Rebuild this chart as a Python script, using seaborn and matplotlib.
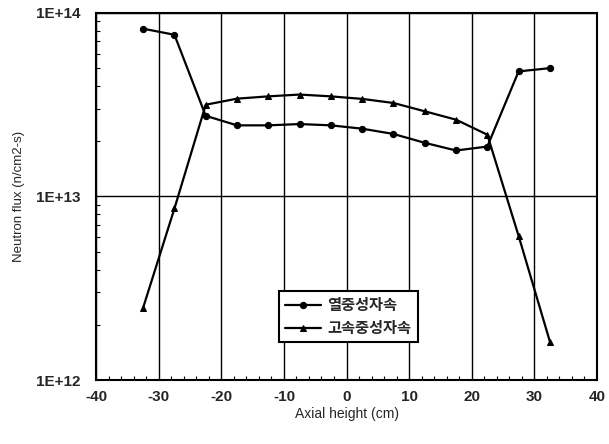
import numpy as np
import pandas as pd
import seaborn as sns
import matplotlib.pyplot as plt
from matplotlib.ticker import FixedLocator, FuncFormatter, LogLocator, MultipleLocator, NullFormatter

# axial positions (cm)
height = [-32.5, -27.5, -22.5, -17.5, -12.5, -7.5, -2.5,
          2.5, 7.5, 12.5, 17.5, 22.5, 27.5, 32.5]

# thermal neutron flux (n/cm2-s)
thermal = [8.2e13, 7.6e13, 2.75e13, 2.44e13, 2.44e13, 2.48e13, 2.44e13,
           2.34e13, 2.19e13, 1.96e13, 1.78e13, 1.87e13, 4.8e13, 5.0e13]

# fast neutron flux (n/cm2-s)
fast = [2.48e12, 8.6e12, 3.16e13, 3.41e13, 3.51e13, 3.59e13, 3.51e13,
        3.40e13, 3.23e13, 2.91e13, 2.62e13, 2.17e13, 6.1e12, 1.62e12]

series_names = ["열중성자속", "고속중성자속"]

df = pd.DataFrame({
    "height": height * 2,
    "flux": thermal + fast,
    "series": [series_names[0]] * len(height) + [series_names[1]] * len(height),
})

sns.set_style("white")
plt.rcParams['font.family'] = ['Liberation Sans', 'Noto Sans CJK KR', 'DejaVu Sans']
plt.rcParams['axes.unicode_minus'] = False

fig = plt.figure(figsize=(6.09, 4.44), dpi=100)
ax = fig.add_axes([0.158, 0.144, 0.822, 0.827])

sns.lineplot(data=df, x="height", y="flux", hue="series", style="series",
             palette=["black", "black"], markers={series_names[0]: "o", series_names[1]: "^"},
             dashes=False, linewidth=1.6, markersize=4.5, markeredgecolor="black",
             ax=ax)

ax.set_yscale("log")
ax.set_xlim(-40, 40)
ax.set_ylim(1e12, 1e14)

ax.xaxis.set_major_locator(MultipleLocator(10))
ax.xaxis.set_minor_locator(MultipleLocator(2))
ax.yaxis.set_major_locator(FixedLocator([1e12, 1e13, 1e14]))
ax.yaxis.set_minor_locator(LogLocator(base=10, subs=np.arange(2, 10)))
ax.yaxis.set_minor_formatter(NullFormatter())
ax.yaxis.set_major_formatter(FuncFormatter(lambda v, p: "1E+%d" % round(np.log10(v))))

ax.grid(True, which="major", color="black", linewidth=1.0)
ax.tick_params(which="major", length=0, labelsize=11)
ax.tick_params(axis="x", which="major", pad=7)
ax.tick_params(axis="y", which="major", pad=11)
ax.tick_params(which="minor", direction="in", length=3, width=0.8, color="black",
               left=True, bottom=True)
for lbl in ax.get_xticklabels() + ax.get_yticklabels():
    lbl.set_fontweight("semibold")

for sp in ax.spines.values():
    sp.set_color("black")
    sp.set_linewidth(1.5)

ax.set_xlabel("Axial height (cm)", fontsize=10, labelpad=2)
ax.set_ylabel("Neutron flux (n/cm2-s)", fontsize=9.5, labelpad=8)

leg = ax.legend(loc="center", bbox_to_anchor=(0.503, 0.172), fancybox=False,
                framealpha=1, edgecolor="black", handlelength=2.4,
                borderpad=0.4, labelspacing=0.45, handletextpad=0.4,
                prop={"family": ["Noto Sans CJK KR"], "weight": "bold", "size": 11})
leg.get_frame().set_linewidth(1.5)
leg.set_title(None)

fig.savefig("out.png", dpi=100)
